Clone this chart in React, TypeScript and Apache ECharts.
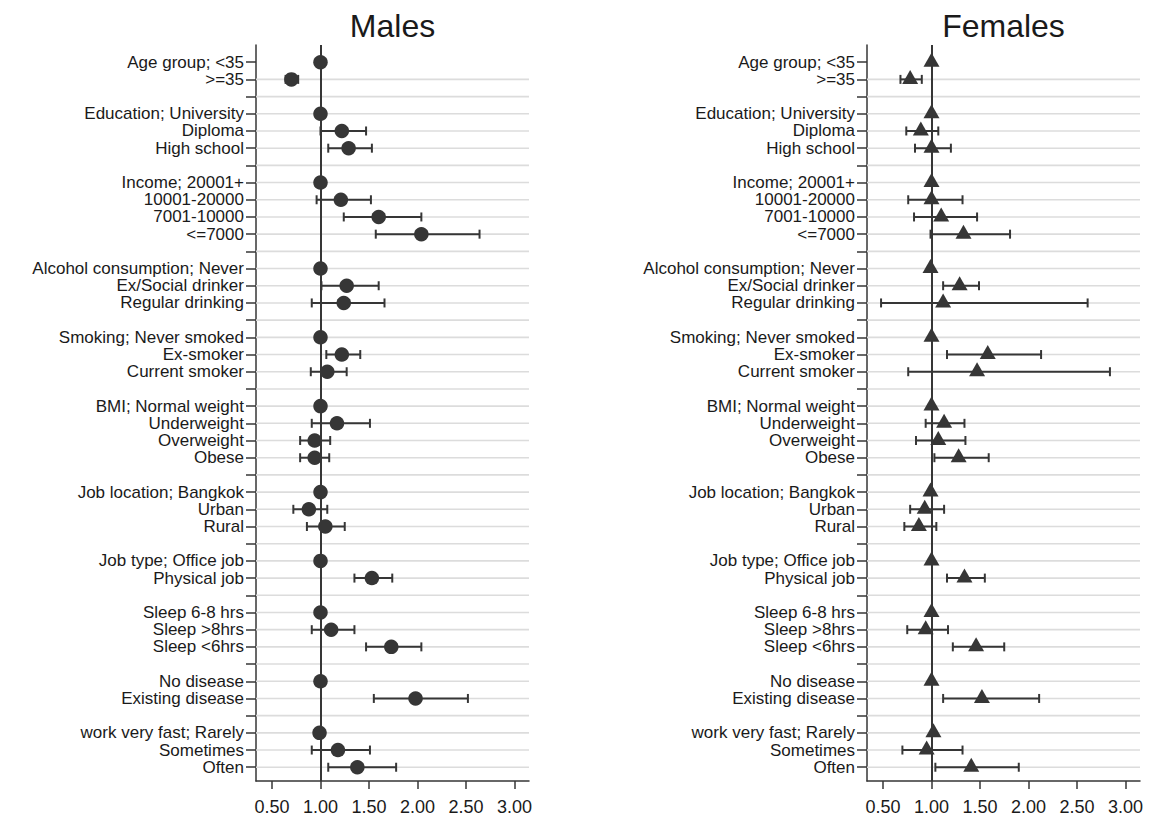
import React, { useEffect, useRef } from "react";
import * as echarts from "echarts";

const rowLabels: string[] = [
  "Age group; <35", ">=35", "",
  "Education; University", "Diploma", "High school", "",
  "Income; 20001+", "10001-20000", "7001-10000", "<=7000", "",
  "Alcohol consumption; Never", "Ex/Social drinker", "Regular drinking", "",
  "Smoking; Never smoked", "Ex-smoker", "Current smoker", "",
  "BMI; Normal weight", "Underweight", "Overweight", "Obese", "",
  "Job location; Bangkok", "Urban", "Rural", "",
  "Job type; Office job", "Physical job", "",
  "Sleep 6-8 hrs", "Sleep >8hrs", "Sleep <6hrs", "",
  "No disease", "Existing disease", "",
  "work very fast; Rarely", "Sometimes", "Often",
];

const maleOR = [1.00, 0.70, null, 1.00, 1.22, 1.29, null, 1.00, 1.21, 1.60, 2.04, null, 1.00, 1.27, 1.24, null, 1.00, 1.22, 1.07, null, 1.00, 1.17, 0.94, 0.94, null, 1.00, 0.88, 1.05, null, 1.00, 1.53, null, 1.00, 1.11, 1.73, null, 1.00, 1.98, null, 0.99, 1.18, 1.38];
const maleLow = [null, 0.64, null, null, 1.00, 1.08, null, null, 0.96, 1.24, 1.57, null, null, 1.01, 0.91, null, null, 1.06, 0.90, null, null, 0.91, 0.79, 0.79, null, null, 0.72, 0.86, null, null, 1.35, null, null, 0.91, 1.47, null, null, 1.55, null, null, 0.91, 1.08];
const maleHigh = [null, 0.77, null, null, 1.47, 1.53, null, null, 1.52, 2.04, 2.64, null, null, 1.60, 1.66, null, null, 1.41, 1.27, null, null, 1.51, 1.10, 1.09, null, null, 1.07, 1.25, null, null, 1.74, null, null, 1.35, 2.04, null, null, 2.52, null, null, 1.51, 1.78];

const femaleOR = [1.00, 0.78, null, 1.00, 0.89, 1.00, null, 1.00, 1.00, 1.10, 1.33, null, 0.99, 1.29, 1.12, null, 1.00, 1.58, 1.47, null, 1.00, 1.13, 1.07, 1.28, null, 0.99, 0.93, 0.87, null, 1.00, 1.34, null, 1.00, 0.94, 1.46, null, 1.00, 1.52, null, 1.02, 0.95, 1.41];
const femaleLow = [null, 0.68, null, null, 0.74, 0.83, null, null, 0.76, 0.82, 0.99, null, null, 1.12, 0.48, null, null, 1.16, 0.76, null, null, 0.94, 0.84, 1.03, null, null, 0.78, 0.72, null, null, 1.16, null, null, 0.75, 1.22, null, null, 1.12, null, null, 0.70, 1.04];
const femaleHigh = [null, 0.90, null, null, 1.07, 1.20, null, null, 1.32, 1.47, 1.81, null, null, 1.49, 2.61, null, null, 2.13, 2.84, null, null, 1.34, 1.35, 1.59, null, null, 1.13, 1.05, null, null, 1.55, null, null, 1.17, 1.75, null, null, 2.11, null, null, 1.32, 1.90];

const xTicks = [0.5, 1, 1.5, 2, 2.5, 3];
const titles = ["Males", "Females"];

const X_MIN = 0.335;
const X_MAX = 3.15;
const DARK = "#363636";
const GRID = "#dcdcdc";
const FONT = "'Liberation Sans', Arial, Helvetica, sans-serif";

export default function App() {
  const ref = useRef<HTMLDivElement>(null);
  useEffect(() => {
    if (!ref.current) return;
    const chart = echarts.init(ref.current, undefined, { renderer: "svg" });
    const rowIdx = rowLabels.map((_, i) => i);
    const panels = [
      { or: maleOR, lo: maleLow, hi: maleHigh, symbol: "circle", size: 14.5, offset: [0, 0] },
      { or: femaleOR, lo: femaleLow, hi: femaleHigh, symbol: "triangle", size: [16, 14], offset: [0, -2.5] },
    ];
    const grids = [
      { left: 256, top: 45, width: 273, height: 736 },
      { left: 867, top: 45, width: 273, height: 736 },
    ];
    const xAxis = grids.map((_, g) => ({
      type: "value",
      gridIndex: g,
      position: "bottom",
      min: X_MIN,
      max: X_MAX,
      axisLine: { show: true, onZero: false, lineStyle: { color: DARK, width: 1.5 } },
      axisTick: { show: true, customValues: xTicks, length: 8, lineStyle: { color: DARK, width: 1.5 } },
      axisLabel: {
        customValues: xTicks,
        formatter: (v: number) => v.toFixed(2),
        fontSize: 18,
        fontFamily: FONT,
        color: "#1a1a1a",
        margin: 17,
        showMinLabel: true,
        showMaxLabel: true,
      },
      splitLine: { show: false },
    }));
    const yAxis = grids.map((_, g) => ({
      type: "value",
      gridIndex: g,
      position: "left",
      min: -1,
      max: 41.8,
      inverse: true,
      axisLine: { show: true, onZero: false, lineStyle: { color: DARK, width: 1.5 } },
      axisTick: { show: true, customValues: rowIdx, length: 10, lineStyle: { color: DARK, width: 1.5 } },
      axisLabel: {
        customValues: rowIdx,
        formatter: (v: number) => rowLabels[Math.round(v)] ?? "",
        fontSize: 17,
        fontFamily: FONT,
        color: "#1a1a1a",
        margin: 12,
        showMinLabel: true,
        showMaxLabel: true,
        hideOverlap: false,
      },
      splitLine: { show: false },
    }));

    const series: any[] = [];
    panels.forEach((p, g) => {
      // gridlines
      series.push({
        type: "custom",
        xAxisIndex: g,
        yAxisIndex: g,
        z: 1,
        silent: true,
        encode: { x: [0, 2], y: 1 },
        data: rowIdx.filter((i) => i > 0).map((i) => [X_MIN, i, X_MAX]),
        renderItem: (params: any, api: any) => {
          const a = api.coord([api.value(0), api.value(1)]);
          const b = api.coord([api.value(2), api.value(1)]);
          return {
            type: "line",
            shape: { x1: a[0], y1: a[1], x2: b[0], y2: b[1] },
            style: { stroke: GRID, lineWidth: 1.6 },
          };
        },
      });
      // reference line at 1
      series.push({
        type: "scatter",
        xAxisIndex: g,
        yAxisIndex: g,
        data: [],
        z: 2,
        markLine: {
          silent: true,
          symbol: "none",
          label: { show: false },
          lineStyle: { color: DARK, width: 2, type: "solid" },
          data: [{ xAxis: 1 }],
        },
      });
      // error bars
      series.push({
        type: "custom",
        xAxisIndex: g,
        yAxisIndex: g,
        z: 3,
        silent: true,
        encode: { x: [0, 2], y: 1 },
        data: rowIdx.filter((i) => p.lo[i] != null).map((i) => [p.lo[i], i, p.hi[i]]),
        renderItem: (params: any, api: any) => {
          const a = api.coord([api.value(0), api.value(1)]);
          const b = api.coord([api.value(2), api.value(1)]);
          const cap = 4.5;
          const st = { stroke: DARK, lineWidth: 2 };
          return {
            type: "group",
            children: [
              { type: "line", shape: { x1: a[0], y1: a[1], x2: b[0], y2: b[1] }, style: st },
              { type: "line", shape: { x1: a[0], y1: a[1] - cap, x2: a[0], y2: a[1] + cap }, style: st },
              { type: "line", shape: { x1: b[0], y1: b[1] - cap, x2: b[0], y2: b[1] + cap }, style: st },
            ],
          };
        },
      });
      // markers
      series.push({
        type: "scatter",
        xAxisIndex: g,
        yAxisIndex: g,
        z: 4,
        symbol: p.symbol,
        symbolSize: p.size,
        symbolOffset: p.offset,
        itemStyle: { color: DARK, opacity: 1 },
        data: rowIdx.filter((i) => p.or[i] != null).map((i) => [p.or[i], i]),
      });
    });

    chart.setOption({
      animation: false,
      backgroundColor: "#ffffff",
      grid: grids,
      xAxis,
      yAxis,
      series,
      graphic: [
        {
          type: "text",
          x: 392.5,
          y: 26,
          style: { text: titles[0], fontSize: 32, fontFamily: FONT, fill: "#1a1a1a", align: "center", verticalAlign: "middle" },
        },
        {
          type: "text",
          x: 1003.5,
          y: 26,
          style: { text: titles[1], fontSize: 32, fontFamily: FONT, fill: "#1a1a1a", align: "center", verticalAlign: "middle" },
        },
      ],
    });
    return () => chart.dispose();
  }, []);
  return (
    <div
      ref={ref}
      style={{ position: "fixed", left: 0, top: 0, width: 1149, height: 817, background: "#fff" }}
    />
  );
}
